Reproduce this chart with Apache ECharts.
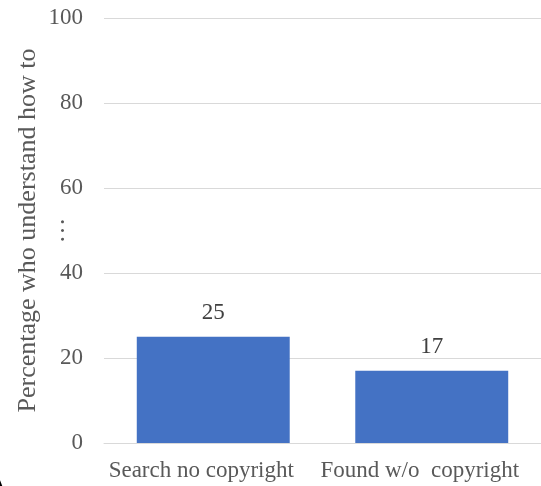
<!DOCTYPE html>
<html><head><meta charset="utf-8">
<script src="https://cdn.jsdelivr.net/npm/echarts@6/dist/echarts.min.js"></script>
<style>html,body{margin:0;padding:0;background:#fff}#c{width:541px;height:486px}</style>
</head><body><div id="c"></div>
<script>
const categories = ['Search no copyright', 'Found w/o  copyright'];
const values = [25, 17];
const yTicks = [0, 20, 40, 60, 80, 100];
const yTitle = 'Percentage who understand how to';

const chart = echarts.init(document.getElementById('c'));
const font = 'Liberation Serif, Times New Roman, serif';
chart.setOption({
  animation: false,
  grid: {left: 104, right: 0, top: 18, bottom: 43, containLabel: false, outerBoundsMode: 'none'},
  xAxis: {
    type: 'category', data: categories,
    axisLine: {lineStyle: {color: '#d9d9d9', width: 1}},
    axisTick: {show: false},
    axisLabel: {color: '#595959', fontFamily: font, fontSize: 23, margin: 16, interval: 0, padding: [0, 24, 0, 0]}
  },
  yAxis: {
    type: 'value', min: yTicks[0], max: yTicks[yTicks.length - 1], interval: 20,
    name: yTitle + '\n…', nameLocation: 'middle', nameRotate: 90, nameGap: 32, nameMoveOverlap: false,
    nameTextStyle: {color: '#595959', fontFamily: font, fontSize: 26, lineHeight: 29},
    axisLine: {show: false}, axisTick: {show: false},
    splitLine: {lineStyle: {color: '#d9d9d9', width: 1}},
    axisLabel: {color: '#595959', fontFamily: font, fontSize: 23, margin: 21}
  },
  series: [{
    type: 'bar', data: values, barWidth: '70%',
    itemStyle: {color: '#4472C4'},
    label: {show: true, position: 'top', distance: 12, color: '#404040', fontFamily: font, fontSize: 23}
  }],
  graphic: [{type: 'text', left: -10, top: 474, style: {text: 'A', fill: '#000', font: '22px ' + font}}]
});
</script></body></html>
